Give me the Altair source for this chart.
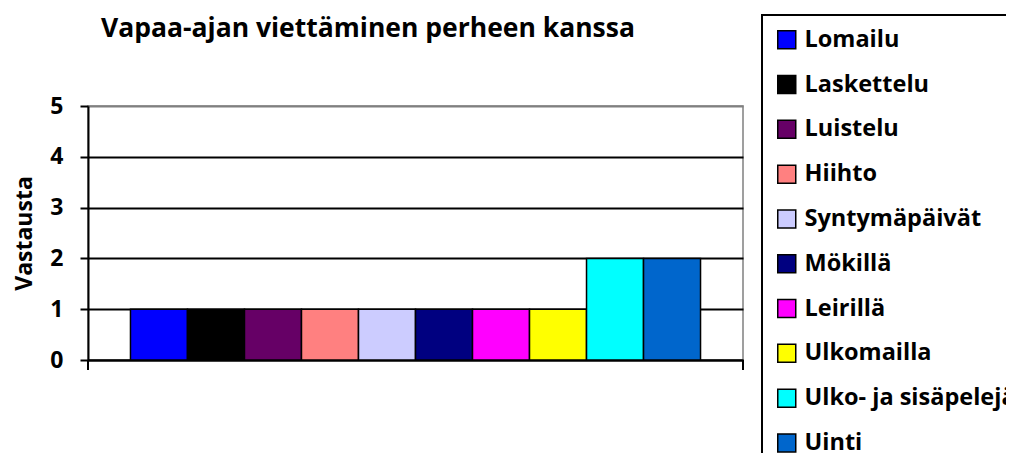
import altair as alt
import pandas as pd

names = ["Lomailu", "Laskettelu", "Luistelu", "Hiihto", "Syntymäpäivät",
         "Mökillä", "Leirillä", "Ulkomailla", "Ulko- ja sisäpelejä", "Uinti"]
values = [1, 1, 1, 1, 1, 1, 1, 1, 2, 2]
colors = ["#0000FF", "#000000", "#660066", "#FF8080", "#CCCCFF",
          "#000080", "#FF00FF", "#FFFF00", "#00FFFF", "#0066CC"]
y_ticks = [0, 1, 2, 3, 4, 5]
title_text = "Vapaa-ajan viettäminen perheen kanssa"

df = pd.DataFrame({"name": names, "value": values})

FONT = "Open Sans"
W, H = 655, 254

bars = alt.Chart(df).mark_bar(stroke="black", strokeWidth=1.5).encode(
    x=alt.X("name:N", sort=names,
            scale=alt.Scale(paddingInner=0, paddingOuter=0.745),
            axis=alt.Axis(labels=False, ticks=False, title="", domainColor="black",
                          domainWidth=2, grid=False)),
    y=alt.Y("value:Q", scale=alt.Scale(domain=[0, 5]),
            axis=alt.Axis(values=y_ticks, title="Vastausta", titleFont=FONT,
                          titleFontSize=23, titleFontWeight="bold", titleColor="black",
                          titlePadding=13,
                          labelFont=FONT, labelFontSize=23, labelFontWeight="bold",
                          labelColor="black", labelPadding=17,
                          tickColor="black", tickSize=8, tickWidth=2,
                          domainColor="black", domainWidth=2,
                          grid=True, gridWidth=2,
                          gridColor={"condition": {"test": "datum.value === 5", "value": "#808080"},
                                     "value": "black"})),
    color=alt.Color("name:N", sort=names,
                    scale=alt.Scale(domain=names, range=colors),
                    legend=alt.Legend(title=None, orient="none", legendX=674, legendY=-91,
                                      symbolType="square", symbolSize=324,
                                      symbolStrokeColor="black", symbolStrokeWidth=1.5,
                                      symbolOpacity=1,
                                      labelFont=FONT, labelFontSize=23.5, labelFontWeight="bold",
                                      labelColor="black", labelOffset=6, labelLimit=500,
                                      rowPadding=19.8, padding=13,
                                      strokeColor="black")),
)

ticks = alt.Chart(df).mark_rule(color="black", strokeWidth=2).encode(
    x=alt.value(0), y=alt.value(H), y2=alt.value(H + 10)
)
ticks2 = alt.Chart(df).mark_rule(color="black", strokeWidth=2).encode(
    x=alt.value(W), y=alt.value(H), y2=alt.value(H + 10)
)
title = alt.Chart(alt.Data(values=[{"t": title_text}])).mark_text(
    font=FONT, fontSize=26.5, fontWeight="bold", color="black", align="left",
    baseline="alphabetic"
).encode(x=alt.value(13), y=alt.value(-69), text="t:N")

chart = alt.layer(bars, ticks, ticks2, title).properties(
    width=W, height=H,
    padding={"left": 80, "top": 98, "right": 263, "bottom": 93},
    autosize=alt.AutoSizeParams(type="none"),
).configure_view(stroke="#808080", strokeWidth=1.5).configure_legend(strokeWidth=2)

chart.save("out.html", embed_options={"renderer": "svg", "actions": False})
